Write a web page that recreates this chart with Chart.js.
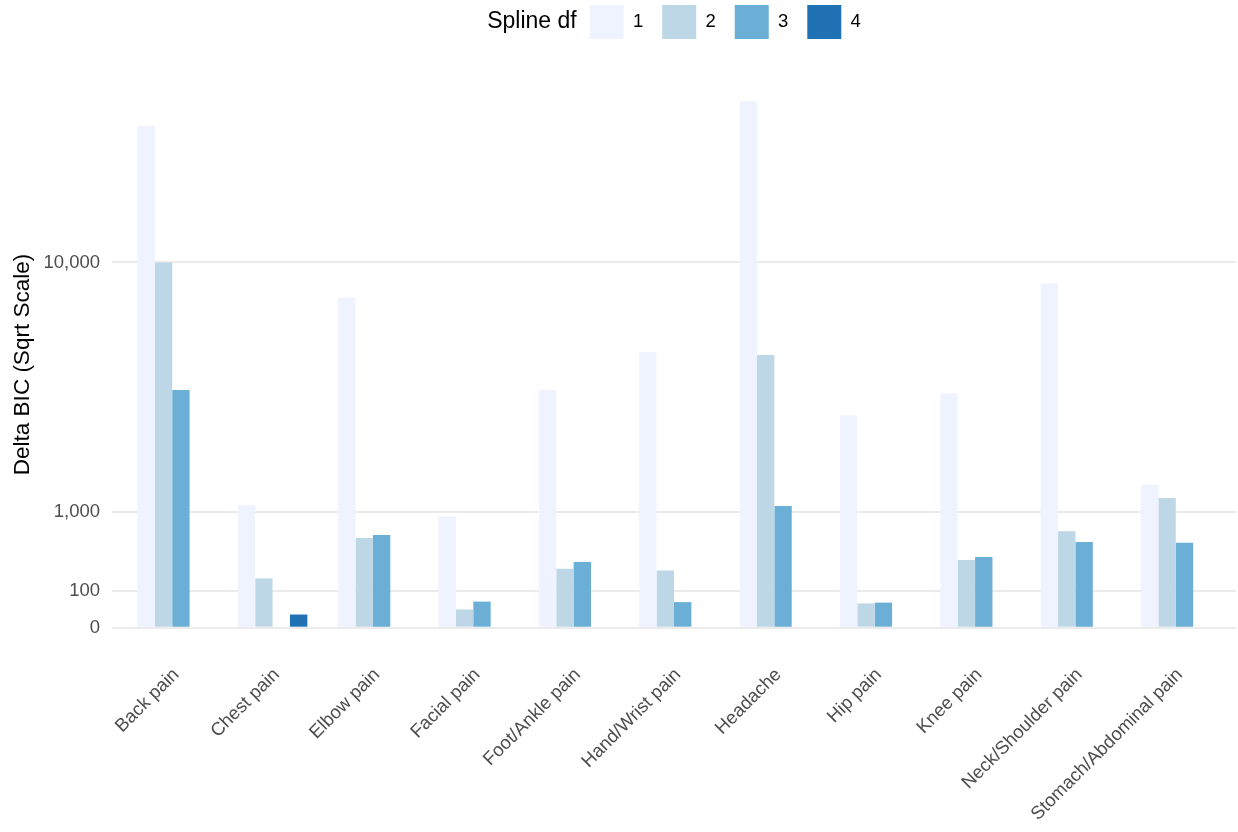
<!DOCTYPE html>
<html>
<head>
<meta charset="utf-8">
<script src="https://cdn.jsdelivr.net/npm/chart.js@4"></script>
<style>
  html, body { margin: 0; padding: 0; background: #ffffff; }
  #wrap { width: 1238px; height: 832px; position: relative; }
</style>
</head>
<body>
<div id="wrap"><canvas id="bicChart"></canvas></div>
<script>
// Pain sites on the x axis
const categories = ['Back pain', 'Chest pain', 'Elbow pain', 'Facial pain', 'Foot/Ankle pain',
                    'Hand/Wrist pain', 'Headache', 'Hip pain', 'Knee pain',
                    'Neck/Shoulder pain', 'Stomach/Abdominal pain'];

// Delta BIC per spline df (null = no bar)
const df1 = [18885, 1123, 8154, 930, 4237, 5701, 20767, 3373, 4121, 8898, 1535];
const df2 = [9990, 182, 602, 25, 261, 246, 5578, 44, 343, 696, 1261];
const df3 = [4237, null, 644, 51, 323, 49, 1110, 47, 374, 550, 542];
const df4 = [null, 13, null, null, null, null, null, null, null, null, null];

const seriesLabels = ['1', '2', '3', '4'];
const seriesColors = ['#eff3ff', '#bdd7e7', '#6baed6', '#2171b5'];
const yTicks = [0, 100, 1000, 10000];
const legendTitle = 'Spline df';

const fontFamily = '"Liberation Sans", Arial, Helvetica, sans-serif';
Chart.defaults.font.family = fontFamily;

// signed square root, so the axis can be padded a little below zero like ggplot does
const sq = v => Math.sign(v) * Math.sqrt(Math.abs(v));

// Square-root value axis
class SqrtScale extends Chart.LinearScale {
    static id = 'sqrt';
    static defaults = {};
    getPixelForValue(value) {
        const lo = sq(this.min), hi = sq(this.max);
        return this.getPixelForDecimal((sq(value) - lo) / (hi - lo));
    }
    getValueForPixel(pixel) {
        const lo = sq(this.min), hi = sq(this.max);
        const s = lo + this.getDecimalForPixel(pixel) * (hi - lo);
        return Math.sign(s) * s * s;
    }
}
Chart.register(SqrtScale);

// 5% expansion in sqrt space on both ends
const allValues = [...df1, ...df2, ...df3, ...df4].filter(v => v !== null);
const sMax = Math.sqrt(Math.max(...allValues));
const sPad = sMax * 0.05;
const yMin = -(sPad * sPad);
const yMax = (sMax + sPad) * (sMax + sPad);

const toPoints = arr => arr.map((v, i) => ({ x: i, y: v }));

// Legend title drawn to the left of the keys, whole legend centred over the panel
const titleFont = '23px ' + fontFamily;
const titleGap = 13;
const legendTitlePlugin = {
    id: 'legendTitle',
    afterLayout(chart) {
        const legend = chart.legend;
        const pad = legend.options.labels.padding;
        const ctx = chart.ctx;
        ctx.save();
        ctx.font = titleFont;
        const tw = ctx.measureText(legendTitle).width;
        ctx.restore();
        const itemsWidth = legend.lineWidths[0] - pad;
        const total = tw + titleGap + itemsWidth;
        const centre = (chart.chartArea.left + chart.chartArea.right) / 2;
        const boxStart = centre - total / 2 + tw + titleGap;
        const shift = boxStart - pad - legend.left;
        legend.left += shift;
        legend.right += shift;
        legend.top = 5 - pad;
    },
    afterDraw(chart) {
        const legend = chart.legend;
        const pad = legend.options.labels.padding;
        const ctx = chart.ctx;
        ctx.save();
        ctx.font = titleFont;
        ctx.fillStyle = '#000000';
        ctx.textAlign = 'right';
        ctx.textBaseline = 'middle';
        ctx.fillText(legendTitle, legend.left + pad - titleGap, legend.top + pad + 17);
        ctx.restore();
    }
};

const ctx = document.getElementById('bicChart').getContext('2d');
const bicChart = new Chart(ctx, {
    type: 'bar',
    data: {
        datasets: [df1, df2, df3, df4].map((arr, i) => ({
            label: seriesLabels[i],
            data: toPoints(arr),
            backgroundColor: seriesColors[i],
            borderWidth: 0,
            categoryPercentage: 0.693,
            barPercentage: 1.0
        }))
    },
    options: {
        responsive: true,
        maintainAspectRatio: false,
        animation: false,
        layout: { padding: { top: 12, left: 0, right: 2, bottom: 0 } },
        scales: {
            x: {
                type: 'linear',
                bounds: 'data',
                offset: false,
                min: -0.6,
                max: 10.6,
                afterBuildTicks: scale => { scale.ticks = categories.map((c, i) => ({ value: i })); },
                afterFit: scale => { scale.height = 178; },
                grid: { display: false, offset: false },
                border: { display: false },
                ticks: {
                    autoSkip: false,
                    maxRotation: 45,
                    minRotation: 45,
                    padding: 2,
                    labelOffset: 4,
                    color: '#4d4d4d',
                    font: { size: 18.5 },
                    callback: v => categories[v]
                }
            },
            y: {
                type: 'sqrt',
                bounds: 'data',
                min: yMin,
                max: yMax,
                afterBuildTicks: scale => { scale.ticks = yTicks.map(v => ({ value: v })); },
                afterFit: scale => { scale.width = 112; },
                grid: { color: '#ebebeb', lineWidth: 2, drawTicks: false },
                border: { display: false },
                ticks: {
                    padding: 12,
                    color: '#4d4d4d',
                    font: { size: 18.5 },
                    callback: v => v.toLocaleString('en-US')
                },
                title: {
                    display: true,
                    text: 'Delta BIC (Sqrt Scale)',
                    color: '#000000',
                    font: { size: 22.5 },
                    padding: { top: 9, bottom: 0 }
                }
            }
        },
        plugins: {
            legend: {
                position: 'top',
                align: 'start',
                labels: {
                    boxWidth: 34,
                    boxHeight: 34,
                    padding: 19,
                    color: '#000000',
                    font: { size: 18.5 }
                }
            },
            tooltip: { enabled: false }
        }
    },
    plugins: [legendTitlePlugin]
});
</script>
</body>
</html>
